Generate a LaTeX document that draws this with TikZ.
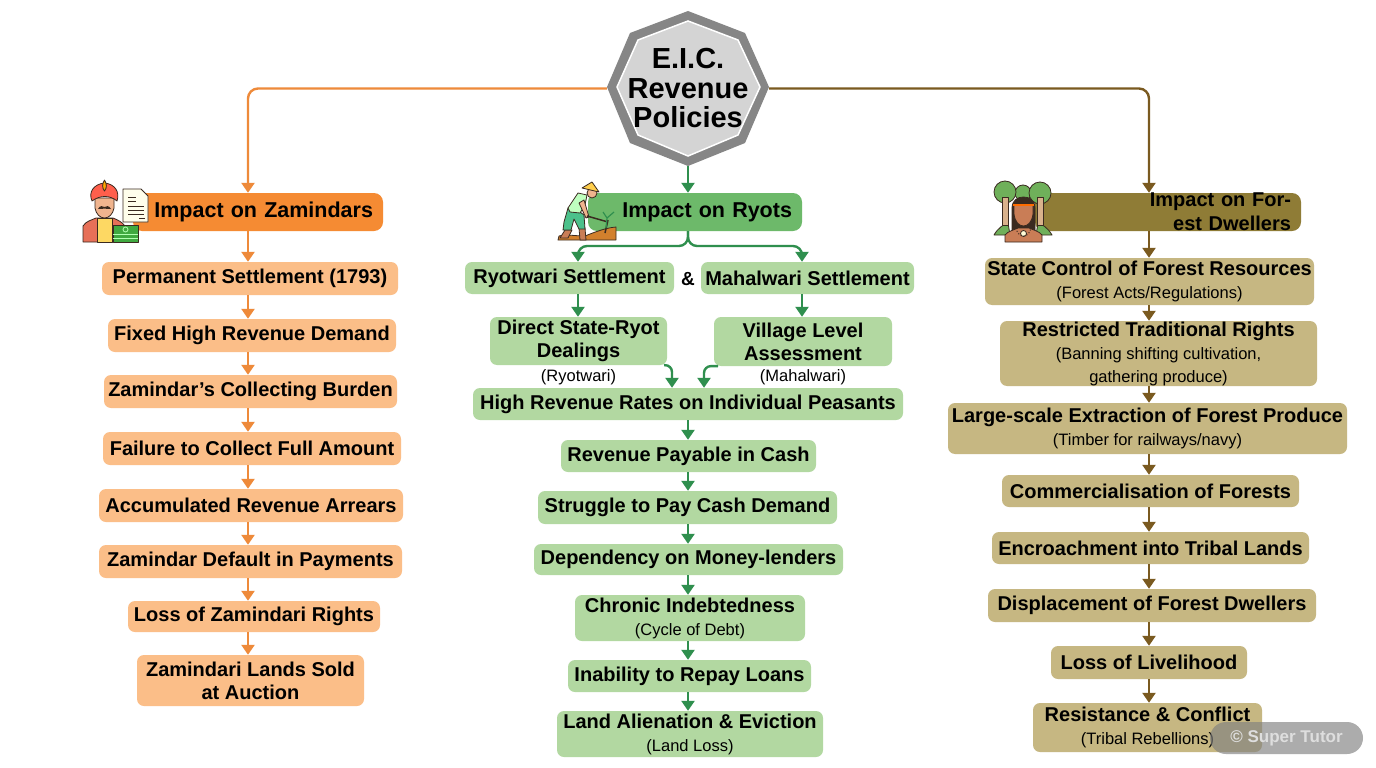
\documentclass[tikz,border=0pt]{standalone}
\usepackage{fontspec}
\setmainfont{Liberation Sans}
\usetikzlibrary{arrows.meta}

\definecolor{zamdark}{HTML}{F58B33}
\definecolor{zamlight}{HTML}{FBBE88}
\definecolor{zamline}{HTML}{EE8A3A}
\definecolor{ryodark}{HTML}{6DB96A}
\definecolor{ryolight}{HTML}{B2D8A1}
\definecolor{ryoline}{HTML}{2F8F4E}
\definecolor{fordark}{HTML}{8F7C36}
\definecolor{forlight}{HTML}{C6B782}
\definecolor{forline}{HTML}{7A5A20}
\definecolor{inkdark}{HTML}{3A2A20}
\definecolor{skin}{HTML}{F0B48E}
\definecolor{skindark}{HTML}{C97D56}
\definecolor{leaf}{HTML}{6FB05A}

\newcommand{\subtxt}[1]{{\fontsize{16.5}{19}\selectfont\mdseries #1}}

\tikzset{
	box/.style 2 args={rounded corners=7pt,inner sep=0pt,align=center,minimum width=#1pt,minimum height=#2pt,font=\fontsize{20}{23}\selectfont\bfseries},
	head/.style={rounded corners=9pt,inner ysep=0pt,inner xsep=10pt,align=right,text width=#1pt,minimum height=38pt,font=\fontsize{21.5}{25}\selectfont\bfseries},
	zarrow/.style={draw=zamline,line width=2.4pt,-{Triangle[width=13pt,length=10pt]}},
	rarrow/.style={draw=ryoline,line width=2.4pt,-{Triangle[width=13pt,length=10pt]}},
	farrow/.style={draw=forline,line width=2.4pt,-{Triangle[width=13pt,length=10pt]}},
	icon/.style={draw=inkdark,line width=.8pt,line join=round}
}

\begin{document}
\begin{tikzpicture}[x=1pt,y=-1pt]
	\useasboundingbox (0,0) rectangle (1376,768);
	\fill[white] (0,0) rectangle (1376,768);

	%axes of the three columns
	\coordinate (zaxis) at (248,0);
	\coordinate (raxis) at (688,0);
	\coordinate (faxis) at (1149,0);

	%hub
	\fill[gray!95] (688,11) -- (745,33) -- (769,87) -- (745,143) -- (688,166) -- (630,143) -- (607,87) -- (630,33) -- cycle;
	\draw[white,line width=1.5pt,fill=black!17] (688,21) -- (738,40) -- (760,87) -- (738,135) -- (688,156) -- (638,135) -- (617,87) -- (638,40) -- cycle;
	\node[align=center,inner sep=0pt,minimum width=162pt,minimum height=155pt,font=\fontsize{29}{29.5}\selectfont\bfseries] (hub) at (688,88.5) {E.I.C.\\Revenue\\Policies};

	%zamindars
	\node[head=230,fill=zamdark] (zam) at (258,212) {Impact on Zamindars};
	\node[box={296}{33},fill=zamlight] (z1) at (250,278.5) {Permanent Settlement (1793)};
	\node[box={288}{33},fill=zamlight] (z2) at (252,335.5) {Fixed High Revenue Demand};
	\node[box={293}{33},fill=zamlight] (z3) at (250.5,391.5) {Zamindar's Collecting Burden};
	\node[box={298}{33},fill=zamlight] (z4) at (252,448.5) {Failure to Collect Full Amount};
	\node[box={304}{33},fill=zamlight] (z5) at (251,505.5) {Accumulated Revenue Arrears};
	\node[box={303}{33},fill=zamlight] (z6) at (250.5,561.5) {Zamindar Default in Payments};
	\node[box={252}{31},fill=zamlight] (z7) at (254,616.5) {Loss of Zamindari Rights};
	\node[box={227}{51},fill=zamlight] (z8) at (250.5,680.5) {Zamindari Lands Sold\\at Auction};

	\draw[zarrow,rounded corners=10pt] (hub.west) -| (zam.north -| zaxis);
	\draw[zarrow] (zam.south -| zaxis) -- (z1.north -| zaxis);
	\draw[zarrow] (z1.south -| zaxis) -- (z2.north -| zaxis);
	\draw[zarrow] (z2.south -| zaxis) -- (z3.north -| zaxis);
	\draw[zarrow] (z3.south -| zaxis) -- (z4.north -| zaxis);
	\draw[zarrow] (z4.south -| zaxis) -- (z5.north -| zaxis);
	\draw[zarrow] (z5.south -| zaxis) -- (z6.north -| zaxis);
	\draw[zarrow] (z6.south -| zaxis) -- (z7.north -| zaxis);
	\draw[zarrow] (z7.south -| zaxis) -- (z8.north -| zaxis);

	%ryots
	\node[head=194,fill=ryodark] (ryo) at (695,212) {Impact on Ryots};
	\node[box={209}{32},fill=ryolight] (r1) at (569.5,278) {Ryotwari Settlement};
	\node[font=\fontsize{19}{22}\selectfont\bfseries,inner sep=0pt] (amp) at (688,279) {\&};
	\node[box={213}{32},fill=ryolight] (r2) at (807.5,278) {Mahalwari Settlement};
	\node[box={177}{48},fill=ryolight] (r3) at (578.5,341) {Direct State-Ryot\\Dealings};
	\node[box={178}{49},fill=ryolight] (r4) at (803,341.5) {Village Level\\Assessment};
	\node[inner sep=0pt] (r3sub) at (578.5,377) {\subtxt{(Ryotwari)}};
	\node[inner sep=0pt] (r4sub) at (803,377) {\subtxt{(Mahalwari)}};
	\node[box={430}{32},fill=ryolight] (r5) at (688,404) {High Revenue Rates on Individual Peasants};
	\node[box={255}{32},fill=ryolight] (r6) at (688.5,456) {Revenue Payable in Cash};
	\node[box={299}{33},fill=ryolight] (r7) at (687.5,507.5) {Struggle to Pay Cash Demand};
	\node[box={309}{31},fill=ryolight] (r8) at (688.5,559.5) {Dependency on Money-lenders};
	\node[box={230}{46},fill=ryolight] (r9) at (690,618) {Chronic Indebtedness\\\subtxt{(Cycle of Debt)}};
	\node[box={243}{32},fill=ryolight] (r10) at (689.5,676) {Inability to Repay Loans};
	\node[box={266}{46},fill=ryolight] (r11) at (690,734) {Land Alienation \& Eviction\\\subtxt{(Land Loss)}};

	\draw[rarrow] (hub.south) -- (ryo.north -| raxis);
	\draw[rarrow,rounded corners=9pt] (ryo.south -| raxis) -- (688,246) -| (r1.north -| 578,0);
	\draw[rarrow,rounded corners=9pt] (ryo.south -| raxis) -- (688,246) -| (r2.north -| 802,0);
	\draw[rarrow] (r1.south -| 578,0) -- (r3.north -| 578,0);
	\draw[rarrow] (r2.south -| 802,0) -- (r4.north -| 802,0);
	\draw[rarrow,rounded corners=7pt] (r3.south -| 664,0) -- (672,365) -- (r5.north -| 672,0);
	\draw[rarrow,rounded corners=7pt] (r4.south -| 718,0) -- (704,366) -- (r5.north -| 704,0);
	\draw[rarrow] (r5.south -| raxis) -- (r6.north -| raxis);
	\draw[rarrow] (r6.south -| raxis) -- (r7.north -| raxis);
	\draw[rarrow] (r7.south -| raxis) -- (r8.north -| raxis);
	\draw[rarrow] (r8.south -| raxis) -- (r9.north -| raxis);
	\draw[rarrow] (r9.south -| raxis) -- (r10.north -| raxis);
	\draw[rarrow] (r10.south -| raxis) -- (r11.north -| raxis);

	%forest dwellers
	\node[head=246,fill=fordark,font=\fontsize{20}{24}\selectfont\bfseries] (for) at (1168,212) {Impact on Forest Dwellers};
	\node[box={329}{47},fill=forlight] (f1) at (1149.5,281.5) {State Control of Forest Resources\\\subtxt{(Forest Acts/Regulations)}};
	\node[box={317}{65},fill=forlight] (f2) at (1158.5,353.5) {Restricted Traditional Rights\\\subtxt{(Banning shifting cultivation,}\\\subtxt{gathering produce)}};
	\node[box={399}{51},fill=forlight] (f3) at (1147.5,428.5) {Large-scale Extraction of Forest Produce\\\subtxt{(Timber for railways/navy)}};
	\node[box={297}{32},fill=forlight] (f4) at (1150.5,491) {Commercialisation of Forests};
	\node[box={317}{32},fill=forlight] (f5) at (1150.5,548) {Encroachment into Tribal Lands};
	\node[box={328}{33},fill=forlight] (f6) at (1152,605.5) {Displacement of Forest Dwellers};
	\node[box={196}{33},fill=forlight] (f7) at (1149,662.5) {Loss of Livelihood};
	\node[box={229}{49},fill=forlight] (f8) at (1147.5,727.5) {Resistance \& Conflict\\\subtxt{(Tribal Rebellions)}};

	\draw[farrow,rounded corners=10pt] (hub.east) -| (for.north -| faxis);
	\draw[farrow] (for.south -| faxis) -- (f1.north -| faxis);
	\draw[farrow] (f1.south -| faxis) -- (f2.north -| faxis);
	\draw[farrow] (f2.south -| faxis) -- (f3.north -| faxis);
	\draw[farrow] (f3.south -| faxis) -- (f4.north -| faxis);
	\draw[farrow] (f4.south -| faxis) -- (f5.north -| faxis);
	\draw[farrow] (f5.south -| faxis) -- (f6.north -| faxis);
	\draw[farrow] (f6.south -| faxis) -- (f7.north -| faxis);
	\draw[farrow] (f7.south -| faxis) -- (f8.north -| faxis);

	%zamindar icon
	\draw[icon,fill=red!50!brown!75!white] (83,242) -- (83,226) .. controls (86,221) and (92,220) .. (96,218) -- (113,218) .. controls (118,220) and (122,222) .. (125,226) -- (125,242) -- cycle;
	\draw[icon,fill=yellow!55!orange!60!white] (97,242) -- (97,218) -- (112,218) -- (112,242) -- cycle;
	\draw[icon,fill=skin] (95,198) -- (114,198) -- (114,208) .. controls (113,214) and (109,218) .. (104.5,218) .. controls (100,218) and (96,214) .. (95,208) -- cycle;
	\fill[inkdark] (98,209) .. controls (100,205) and (103,206) .. (104.5,207) .. controls (106,206) and (109,205) .. (111,209) .. controls (108,209) and (106,209) .. (104.5,208.5) .. controls (103,209) and (101,209) .. (98,209) -- cycle;
	\draw[icon,fill=red!65!white!85!orange] (92,201) .. controls (88,192) and (94,184) .. (104.5,183) .. controls (115,184) and (120,192) .. (117,201) .. controls (110,195) and (100,195) .. (92,201) -- cycle;
	\draw[icon,fill=orange!70!yellow] (104.5,180) .. controls (102,184) and (102,188) .. (104.5,191) .. controls (107,188) and (107,184) .. (104.5,180) -- cycle;
	\draw[icon,fill=white!92!yellow] (123,189) -- (141,189) -- (148,196) -- (148,222) -- (123,222) -- cycle;
	\draw[inkdark,line width=.8pt] (128,197) -- (136,197) (128,201) -- (136,201) (128,206) -- (144,206) (128,210) -- (144,210) (128,214) -- (144,214) (139,218) -- (145,218);
	\draw[icon,fill=green!55!black!75!white] (113,225) -- (138,225) -- (138,242) -- (113,242) -- cycle;
	\draw[white!70!green,line width=.8pt] (113,234) -- (138,234) (113,238) -- (138,238);
	\draw[white!70!green,line width=.8pt] (125.5,229.5) circle (2.5);

	%farmer icon
	\draw[icon,fill=brown!70!orange] (558,240) -- (559,236) .. controls (566,234) and (575,236) .. (585,236) .. controls (595,232) and (605,228) .. (616,227) -- (616,240) -- cycle;
	\draw[icon,fill=skindark] (565,230) -- (560,238) -- (568,238) -- (572,230) -- cycle;
	\draw[icon,fill=skindark] (579,228) -- (580,240) -- (586,240) -- (585,228) -- cycle;
	\draw[icon,fill=teal!70!green!70!white] (568,208) -- (564,222) -- (563,230) -- (571,230) -- (574,219) -- (579,229) -- (585,229) -- (584,215) -- (580,212) -- cycle;
	\draw[icon,fill=skin] (592,193) circle (5);
	\draw[icon,fill=green!25!white] (568,208) -- (578,193) -- (587,195) -- (585,205) -- (580,213) -- (570,212) -- cycle;
	\draw[icon,fill=skin] (584,200) -- (589,217) -- (586,218) -- (579,203) -- cycle;
	\draw[inkdark,line width=1.5pt] (587,216) -- (608,222) (608,220) -- (605,233);
	\draw[ryoline,line width=1.2pt] (606,228) -- (607,218) (607,218) -- (603,212) (607,218) -- (614,212);
	\draw[icon,fill=orange!55!yellow!70!white] (582,188) -- (592,182) -- (599,192) -- cycle;

	%forest dweller icon
	\draw[icon,fill=leaf] (994,235) .. controls (998,228) and (1004,224) .. (1008,223) -- (1010,235) -- cycle;
	\draw[icon,fill=leaf] (1052,235) .. controls (1048,228) and (1042,224) .. (1038,223) -- (1036,235) -- cycle;
	\draw[icon,fill=leaf] (1023,193) circle (8);
	\draw[icon,fill=leaf] (1005,192) circle (11);
	\draw[icon,fill=leaf] (1040,193) circle (11);
	\draw[icon,fill=brown!60!white] (1002,197) rectangle (1008,225);
	\draw[icon,fill=brown!60!white] (1037,197) rectangle (1043,225);
	\draw[icon,fill=inkdark] (1012,232) -- (1012,208) .. controls (1012,200) and (1018,197) .. (1023.5,197) .. controls (1029,197) and (1035,200) .. (1035,208) -- (1035,232) -- cycle;
	\draw[icon,fill=skindark] (1005,242) -- (1005,235) .. controls (1008,231) and (1014,230) .. (1018,228) -- (1029,228) .. controls (1033,230) and (1039,231) .. (1042,235) -- (1042,242) -- cycle;
	\draw[icon,fill=skindark] (1014,205) -- (1033,205) -- (1033,214) .. controls (1032,222) and (1028,226) .. (1023.5,226) .. controls (1019,226) and (1015,222) .. (1014,214) -- cycle;
	\draw[orange!85!red,line width=1.6pt] (1013,205) -- (1034,205);
	\draw[inkdark,line width=.8pt,fill=white!85!yellow] (1023.5,233.5) circle (3);
	\draw[inkdark,line width=1pt,dotted] (1016,228) .. controls (1017,233) and (1020,236) .. (1023.5,236) .. controls (1027,236) and (1030,233) .. (1031,228);

	%watermark
	\node[fill=gray,fill opacity=.65,text opacity=1,rounded corners=16pt,minimum width=153pt,minimum height=32pt,inner sep=0pt,text=black!13,font=\fontsize{17}{20}\selectfont\bfseries] (mark) at (1286.5,738) {© Super Tutor};
\end{tikzpicture}
\end{document}
